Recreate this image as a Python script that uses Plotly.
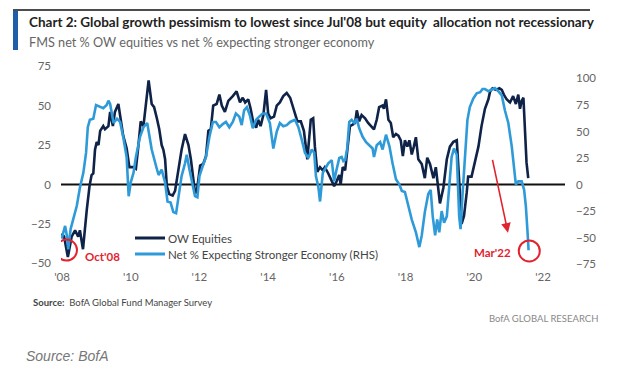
import plotly.graph_objects as go

# ---------------- data ----------------
ow_years = [2007.99, 2008.06, 2008.17, 2008.28, 2008.38, 2008.47, 2008.52, 2008.61, 2008.72, 2008.80,
            2008.86, 2008.91, 2008.96, 2009.01, 2009.06, 2009.11, 2009.20, 2009.25, 2009.35, 2009.40,
            2009.48, 2009.54, 2009.64, 2009.71, 2009.78, 2009.88, 2009.96, 2010.08, 2010.15, 2010.22,
            2010.29, 2010.37, 2010.46, 2010.52, 2010.61, 2010.68, 2010.76, 2010.83, 2010.90, 2010.95,
            2011.00, 2011.05, 2011.12, 2011.22, 2011.29, 2011.38, 2011.48, 2011.58, 2011.68, 2011.75,
            2011.82, 2011.87, 2011.92, 2011.97, 2012.02, 2012.11, 2012.19, 2012.26, 2012.33, 2012.40,
            2012.50, 2012.58, 2012.65, 2012.74, 2012.84, 2012.97, 2013.08, 2013.18, 2013.26, 2013.33,
            2013.42, 2013.49, 2013.57, 2013.65, 2013.71, 2013.78, 2013.86, 2013.94, 2014.00, 2014.07,
            2014.17, 2014.25, 2014.34, 2014.44, 2014.54, 2014.64, 2014.73, 2014.85, 2014.95, 2015.04,
            2015.14, 2015.24, 2015.31, 2015.36, 2015.43, 2015.51, 2015.59, 2015.65, 2015.75, 2015.85,
            2015.92, 2015.99, 2016.07, 2016.11, 2016.17, 2016.24, 2016.30, 2016.38, 2016.46, 2016.53,
            2016.58, 2016.65, 2016.72, 2016.82, 2016.91, 2017.01, 2017.08, 2017.16, 2017.23, 2017.33,
            2017.37, 2017.43, 2017.50, 2017.57, 2017.64, 2017.72, 2017.79, 2017.86, 2017.92, 2017.98,
            2018.05, 2018.11, 2018.18, 2018.24, 2018.30, 2018.37, 2018.47, 2018.56, 2018.63, 2018.71,
            2018.81, 2018.88, 2018.95, 2019.00, 2019.10, 2019.20, 2019.29, 2019.39, 2019.49, 2019.53,
            2019.58, 2019.63, 2019.70, 2019.78, 2019.82, 2019.92, 2020.02, 2020.12, 2020.21, 2020.31,
            2020.41, 2020.46, 2020.53, 2020.63, 2020.73, 2020.80, 2020.86, 2020.94, 2021.04, 2021.13,
            2021.21, 2021.28, 2021.33, 2021.38, 2021.43, 2021.47, 2021.52, 2021.57]
ow_values = [-31, -33, -46, -33, -29, -33, -29, -41, -16, -1,
             6, 7, 22, 27, 25, 34, 37, 35, 37, 46,
             37, 46, 51, 42, 31, 23, 11, 11, 10, 24,
             40, 37, 54, 66, 51, 49, 42, 35, 25, 22,
             16, -1, -6, -7, -4, 9, 22, 32, 25, 16,
             5, -5, -5, 3, 12, 13, 18, 34, 35, 50,
             51, 57, 50, 46, 53, 56, 59, 52, 55, 52,
             54, 48, 39, 36, 41, 37, 44, 60, 45, 42,
             43, 50, 52, 56, 58, 55, 48, 40, 40, 34,
             16, 41, 42, 24, 8, 11, 9, 11, 7, 2,
             -1, 2, 6, 0, 11, 9, 22, 37, 38, 39,
             47, 40, 44, 42, 39, 37, 35, 41, 49, 50,
             48, 54, 41, 39, 30, 32, 31, 28, 18, 28,
             24, 28, 19, 24, 30, 16, 13, 4, 17, 13,
             4, 11, -3, -12, -2, 16, 24, 27, 28, 16,
             -5, -25, -20, -5, 5, 5, 14, 24, 37, 48,
             54, 59, 61, 60, 61, 60, 57, 54, 52, 56,
             51, 57, 48, 53, 55, 31, 14, 4]

net_years = [2007.99, 2008.09, 2008.14, 2008.18, 2008.25, 2008.33, 2008.43, 2008.52, 2008.62, 2008.70,
             2008.75, 2008.81, 2008.91, 2008.99, 2009.11, 2009.20, 2009.30, 2009.35, 2009.40, 2009.45,
             2009.50, 2009.60, 2009.69, 2009.78, 2009.88, 2009.94, 2010.00, 2010.08, 2010.15, 2010.27,
             2010.37, 2010.48, 2010.54, 2010.61, 2010.74, 2010.81, 2010.90, 2011.00, 2011.07, 2011.16,
             2011.24, 2011.32, 2011.38, 2011.48, 2011.58, 2011.63, 2011.71, 2011.80, 2011.87, 2011.94,
             2012.00, 2012.09, 2012.19, 2012.29, 2012.39, 2012.48, 2012.58, 2012.68, 2012.77, 2012.87,
             2012.97, 2013.06, 2013.16, 2013.23, 2013.30, 2013.38, 2013.47, 2013.55, 2013.65, 2013.74,
             2013.84, 2013.94, 2014.05, 2014.15, 2014.25, 2014.34, 2014.44, 2014.54, 2014.64, 2014.78,
             2014.88, 2014.98, 2015.07, 2015.17, 2015.27, 2015.34, 2015.39, 2015.46, 2015.51, 2015.59,
             2015.65, 2015.75, 2015.85, 2015.92, 2015.99, 2016.07, 2016.14, 2016.19, 2016.24, 2016.30,
             2016.36, 2016.43, 2016.51, 2016.58, 2016.65, 2016.75, 2016.85, 2016.94, 2017.04, 2017.08,
             2017.16, 2017.26, 2017.33, 2017.43, 2017.53, 2017.62, 2017.72, 2017.82, 2017.89, 2017.98,
             2018.05, 2018.18, 2018.30, 2018.40, 2018.47, 2018.56, 2018.66, 2018.73, 2018.79, 2018.86,
             2018.92, 2018.98, 2019.05, 2019.12, 2019.20, 2019.27, 2019.34, 2019.41, 2019.49, 2019.56,
             2019.60, 2019.66, 2019.73, 2019.80, 2019.87, 2019.97, 2020.07, 2020.17, 2020.24, 2020.31,
             2020.41, 2020.51, 2020.60, 2020.70, 2020.80, 2020.89, 2020.99, 2021.09, 2021.15, 2021.21,
             2021.28, 2021.38, 2021.45, 2021.50, 2021.55, 2021.58]
net_values = [-51, -39, -48, -61, -42, -33, -20, -3, 11, 30,
              54, 61, 62, 75, 73, 72, 75, 79, 76, 68,
              58, 62, 59, 45, 26, -11, 2, 11, 26, 45,
              54, 58, 45, 33, 17, 9, 14, 2, -16, -17,
              -26, -27, -14, 8, 20, 28, 14, -2, -11, -12,
              8, 17, 26, 45, 59, 59, 54, 57, 59, 54,
              59, 67, 64, 56, 70, 73, 65, 53, 61, 64,
              67, 67, 58, 34, 50, 58, 55, 56, 59, 61,
              54, 42, 30, 25, 33, 30, 8, -2, -16, 11,
              14, 20, 23, 3, 14, 25, 26, 22, 23, 34,
              59, 61, 58, 62, 53, 45, 40, 37, 34, 26,
              37, 40, 33, 47, 36, 20, 5, 0, -6, -7,
              -17, -33, -45, -59, -48, -26, -9, -5, -30, -48,
              -33, -45, -25, -36, -30, -2, 26, 34, 28, -30,
              -42, -8, 30, 61, 73, 81, 86, 87, 90, 90,
              88, 90, 91, 88, 84, 70, 58, 36, 14, 0,
              3, 3, -5, -20, -45, -62]

x_tick_vals = [2008, 2010, 2012, 2014, 2016, 2018, 2020, 2022]
x_tick_text = ["'08", "'10", "'12", "'14", "'16", "'18", "'20", "'22"]
left_ticks = [-50, -25, 0, 25, 50, 75]
right_ticks = [-75, -50, -25, 0, 25, 50, 75, 100]
series_names = ["OW Equities", "Net % Expecting Stronger Economy (RHS)"]

DARK = "#0f2247"
LIGHT = "#2f9ad8"
RED = "#e2232f"
FONT = "Lato, Roboto, Liberation Sans, sans-serif"

# ---------------- figure ----------------
W, H = 621, 378
L, R, T, B = 61, 56, 60, 110
pw, ph = W - L - R, H - T - B


def px2paper_x(px):
    return (px - L) / pw


def px2paper_y(py):
    return (H - B - py) / ph


fig = go.Figure()
fig.add_trace(go.Scatter(x=net_years, y=net_values, yaxis="y2", mode="lines",
                         name=series_names[1], showlegend=False,
                         line=dict(color=LIGHT, width=2.6)))
fig.add_trace(go.Scatter(x=ow_years, y=ow_values, mode="lines", name=series_names[0],
                         showlegend=False, line=dict(color=DARK, width=2.6)))

fig.update_layout(
    width=W, height=H,
    margin=dict(l=L, r=R, t=T, b=B),
    paper_bgcolor="white", plot_bgcolor="white",
    showlegend=False,
    xaxis=dict(range=[2007.97, 2022.64], tickvals=x_tick_vals, ticktext=x_tick_text,
               showgrid=False, zeroline=False, showline=False, ticks="",
               tickfont=dict(family=FONT, size=11.5, color="#666")),
    yaxis=dict(range=[-52.9, 78.9], tickvals=left_ticks, showgrid=False, zeroline=False,
               showline=False, ticks="", ticklabelstandoff=9,
               tickfont=dict(family=FONT, size=11.5, color="#666")),
    yaxis2=dict(range=[-78.7, 117.4], tickvals=right_ticks, overlaying="y", side="right",
                showgrid=False, zeroline=False, showline=False, ticks="", ticklabelstandoff=10,
                tickfont=dict(family=FONT, size=11.5, color="#666")),
)

shapes = [
    # zero line
    dict(type="line", xref="paper", yref="y", x0=0, x1=1, y0=0, y1=0,
         line=dict(color="#111111", width=2), layer="below"),
    # header rule and blue bar
    dict(type="line", xref="paper", yref="paper", x0=px2paper_x(13), x1=px2paper_x(590),
         y0=px2paper_y(10), y1=px2paper_y(10), line=dict(color="#111111", width=1.5)),
    dict(type="rect", xref="paper", yref="paper", x0=px2paper_x(13), x1=px2paper_x(18),
         y0=px2paper_y(50), y1=px2paper_y(11), fillcolor="#1f5ea8", line=dict(width=0)),
    # legend samples
    dict(type="line", xref="paper", yref="paper", x0=px2paper_x(135), x1=px2paper_x(165),
         y0=px2paper_y(238), y1=px2paper_y(238), line=dict(color=DARK, width=3)),
    dict(type="line", xref="paper", yref="paper", x0=px2paper_x(135), x1=px2paper_x(165),
         y0=px2paper_y(254), y1=px2paper_y(254), line=dict(color=LIGHT, width=3)),
    # red circles
    dict(type="circle", xref="x", yref="y", xsizemode="pixel", ysizemode="pixel",
         xanchor=2008.13, yanchor=-41.5, x0=-10.5, x1=10.5, y0=-10.5, y1=10.5,
         line=dict(color=RED, width=2)),
    dict(type="circle", xref="x", yref="y", xsizemode="pixel", ysizemode="pixel",
         xanchor=2021.60, yanchor=-42.1, x0=-10.5, x1=10.5, y0=-10.5, y1=10.5,
         line=dict(color=RED, width=2)),
]
fig.update_layout(shapes=shapes)

ann = [
    dict(xref="paper", yref="paper", x=px2paper_x(27), y=px2paper_y(22), xanchor="left",
         yanchor="middle", showarrow=False,
         text="<b>Chart 2: Global growth pessimism to lowest since Jul'08 but equity  allocation not recessionary</b>",
         font=dict(family=FONT, size=13.5, color="#222")),
    dict(xref="paper", yref="paper", x=px2paper_x(27), y=px2paper_y(42), xanchor="left",
         yanchor="middle", showarrow=False,
         text="FMS net % OW equities vs net % expecting stronger economy",
         font=dict(family=FONT, size=12.7, color="#666")),
    dict(xref="paper", yref="paper", x=px2paper_x(166), y=px2paper_y(238), xanchor="left",
         yanchor="middle", showarrow=False, text=series_names[0],
         font=dict(family=FONT, size=11.5, color="#444")),
    dict(xref="paper", yref="paper", x=px2paper_x(166), y=px2paper_y(254), xanchor="left",
         yanchor="middle", showarrow=False, text=series_names[1],
         font=dict(family=FONT, size=11.5, color="#444")),
    dict(xref="paper", yref="paper", x=px2paper_x(31), y=px2paper_y(302), xanchor="left",
         yanchor="middle", showarrow=False,
         text="<b>Source:</b>  BofA Global Fund Manager Survey",
         font=dict(family=FONT, size=9.5, color="#444")),
    dict(xref="paper", yref="paper", x=px2paper_x(600), y=px2paper_y(318), xanchor="right",
         yanchor="middle", showarrow=False, text="BofA GLOBAL RESEARCH",
         font=dict(family=FONT, size=9.5, color="#888")),
    dict(xref="paper", yref="paper", x=px2paper_x(24), y=px2paper_y(356), xanchor="left",
         yanchor="middle", showarrow=False, text="<i>Source: BofA</i>",
         font=dict(family="Liberation Sans, Arial, sans-serif", size=14, color="#777")),
    dict(xref="x", yref="y", x=2008.62, y=-45.3, xanchor="left", yanchor="middle",
         showarrow=False, text="<b>Oct'08</b>",
         font=dict(family=FONT, size=11.5, color=RED)),
    dict(xref="x", yref="y", x=2021.12, y=-42.8, xanchor="right", yanchor="middle",
         showarrow=False, text="<b>Mar'22</b>",
         font=dict(family=FONT, size=11.5, color=RED)),
    # red arrow
    dict(xref="x", yref="y", axref="x", ayref="y", x=2020.98, y=-30.5, ax=2020.52, ay=16.6,
         showarrow=True, arrowhead=2, arrowsize=1.2, arrowwidth=1.6, arrowcolor=RED, text=""),
]
fig.update_layout(annotations=ann)

fig.write_html("out.html", config={"displayModeBar": False},
               post_script="document.body.style.margin='0';")
